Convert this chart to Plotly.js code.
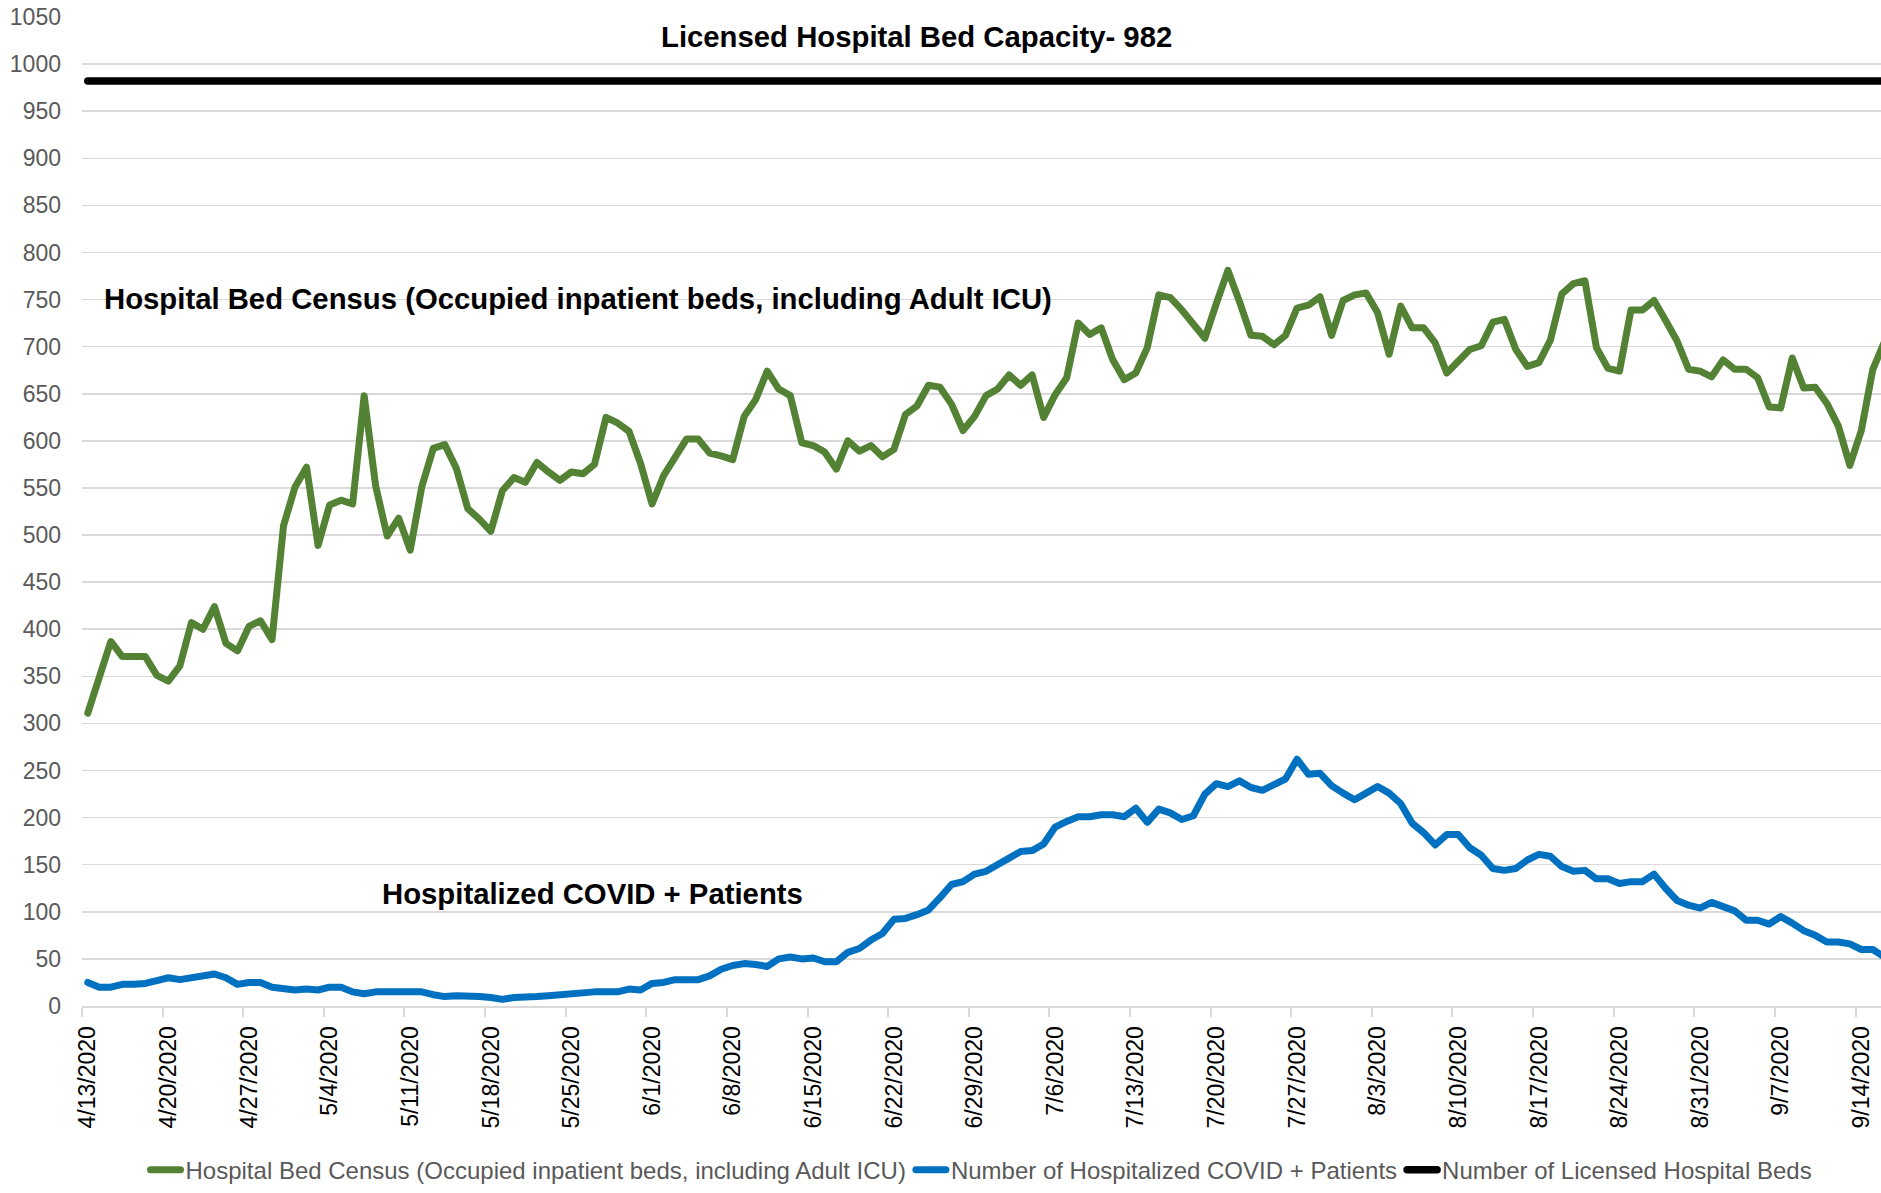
<!DOCTYPE html>
<html>
<head>
<meta charset="utf-8">
<script src="https://cdn.plot.ly/plotly-3.0.1.min.js"></script>
<style>
  html, body { margin: 0; padding: 0; background: #ffffff; }
  #chart { width: 1881px; height: 1193px; }
  .js-line { stroke-linejoin: round !important; stroke-linecap: round !important; }
</style>
</head>
<body>
<div id="chart"></div>
<script>
// ---------------- DATA ----------------
const startDate = '2020-04-13';

const hospitalBedCensus = [
  311, 349, 387, 371, 371, 371, 351, 345, 361, 407,
  400, 424, 385, 377, 403, 409, 389, 510, 551, 572,
  489, 532, 537, 533, 648, 552, 499, 518, 484, 551,
  592, 596, 571, 528, 517, 504, 547, 561, 556, 577,
  567, 558, 567, 565, 575, 625, 619, 610, 576, 533,
  563, 582, 602, 602, 587, 584, 580, 626, 644, 674,
  655, 648, 598, 595, 588, 570, 600, 589, 595, 583,
  591, 628, 637, 659, 657, 639, 611, 626, 648, 655,
  670, 659, 670, 625, 649, 667, 725, 713, 720, 686,
  665, 672, 699, 755, 752, 739, 725, 709, 746, 781,
  748, 712, 711, 702, 712, 741, 744, 753, 712, 749,
  755, 757, 736, 692, 743, 720, 720, 704, 672, 685,
  697, 701, 726, 729, 697, 679, 683, 707, 756, 767,
  770, 699, 677, 674, 739, 739, 749, 728, 706, 676,
  674, 668, 686, 676, 676, 667, 636, 635, 688, 656,
  657, 640, 616, 574, 611, 676, 705
];

const covidPatients = [
  25, 20, 20, 23, 23, 24, 27, 30, 28, 30,
  32, 34, 30, 23, 25, 25, 20, 18, 17, 18,
  17, 20, 20, 15, 13, 15, 15, 16, 16, 15,
  12, 10, 11, 11, 10, 9, 7, 9, 9, 10,
  11, 12, 13, 15, 15, 15, 15, 18, 17, 24,
  25, 28, 28, 28, 32, 39, 43, 45, 44, 42,
  50, 52, 50, 51, 47, 47, 57, 61, 70, 77,
  92, 93, 97, 102, 115, 129, 132, 140, 143, 149,
  157, 164, 165, 172, 190, 196, 201, 201, 203, 203,
  201, 210, 195, 209, 205, 198, 202, 225, 236, 233,
  239, 232, 229, 235, 241, 262, 246, 247, 234, 226,
  219, 226, 233, 226, 215, 194, 184, 171, 182, 182,
  168, 160, 146, 144, 146, 155, 161, 159, 148, 143,
  144, 135, 135, 130, 132, 132, 140, 125, 112, 107,
  104, 110, 106, 101, 91, 91, 87, 95, 88, 80,
  75, 68, 68, 66, 60, 60, 52
];

const licensedBedCapacity = 982;

const tickLabels = [
  '4/13/2020', '4/20/2020', '4/27/2020', '5/4/2020', '5/11/2020', '5/18/2020',
  '5/25/2020', '6/1/2020', '6/8/2020', '6/15/2020', '6/22/2020', '6/29/2020',
  '7/6/2020', '7/13/2020', '7/20/2020', '7/27/2020', '8/3/2020', '8/10/2020',
  '8/17/2020', '8/24/2020', '8/31/2020', '9/7/2020', '9/14/2020'
];

const seriesNames = [
  'Hospital Bed Census (Occupied inpatient beds, including Adult ICU)',
  'Number of Hospitalized COVID + Patients',
  'Number of Licensed Hospital Beds'
];

// ---------------- BUILD ----------------
const s0 = new Date(startDate + 'T00:00:00Z');
const dates = hospitalBedCensus.map((_, i) =>
  new Date(s0.getTime() + i * 86400000).toISOString().slice(0, 10));

// Excel date axis: tick marks sit half a day before the plotted points
const tickVals = tickLabels.map(s => {
  const [m, d, y] = s.split('/').map(Number);
  return new Date(Date.UTC(y, m - 1, d) - 12 * 3600000).toISOString().replace('T', ' ').slice(0, 19);
});

const FONT = 'Arial, "Liberation Sans", Helvetica, sans-serif';

const traces = [
  {
    x: dates, y: hospitalBedCensus, name: seriesNames[0],
    type: 'scatter', mode: 'lines',
    line: { color: '#548235', width: 7 }
  },
  {
    x: dates, y: covidPatients, name: seriesNames[1],
    type: 'scatter', mode: 'lines',
    line: { color: '#0070C0', width: 7 }
  },
  {
    x: dates, y: dates.map(() => licensedBedCapacity), name: seriesNames[2],
    type: 'scatter', mode: 'lines',
    line: { color: '#000000', width: 7.5 }
  }
];

const layout = {
  width: 1881, height: 1193,
  margin: { l: 82, r: 0, t: 17, b: 184, pad: 0 },
  paper_bgcolor: '#ffffff', plot_bgcolor: '#ffffff',
  font: { family: FONT, color: '#595959', size: 23 },
  showlegend: true,
  legend: {
    orientation: 'h', x: 0.5, xanchor: 'center', y: -0.166, yanchor: 'middle',
    font: { family: FONT, size: 24, color: '#595959' },
    itemwidth: 30, tracegroupgap: 0, bgcolor: 'rgba(0,0,0,0)'
  },
  xaxis: {
    type: 'date',
    range: ['2020-04-12 12:00:00', '2020-09-15 17:00:00'],
    tickmode: 'array', tickvals: tickVals, ticktext: tickLabels,
    tickangle: -90,
    ticklabelshift: 6,
    ticks: 'outside', ticklen: 9, tickwidth: 2, tickcolor: '#d9d9d9',
    tickfont: { family: FONT, size: 23, color: '#000000' },
    showgrid: false, zeroline: false,
    showline: true, linecolor: '#d9d9d9', linewidth: 2,
    fixedrange: true
  },
  yaxis: {
    range: [0, 1050], dtick: 50, tick0: 0,
    showgrid: true, gridcolor: '#d9d9d9', gridwidth: 1.5,
    zeroline: false, showline: false, ticks: '',
    ticklabelstandoff: 20,
    tickfont: { family: FONT, size: 23, color: '#595959' },
    fixedrange: true
  },
  annotations: [
    {
      text: '<b>Licensed Hospital Bed Capacity- 982</b>',
      xref: 'paper', yref: 'paper', x: 0.464, y: 0.980,
      xanchor: 'center', yanchor: 'middle', showarrow: false,
      font: { family: FONT, size: 29.3, color: '#000000' }
    },
    {
      text: '<b>Hospital Bed Census (Occupied inpatient beds, including Adult ICU)</b>',
      xref: 'paper', yref: 'paper', x: 0.2757, y: 0.7157,
      xanchor: 'center', yanchor: 'middle', showarrow: false,
      font: { family: FONT, size: 29.3, color: '#000000' }
    },
    {
      text: '<b>Hospitalized COVID + Patients</b>',
      xref: 'paper', yref: 'paper', x: 0.284, y: 0.1139,
      xanchor: 'center', yanchor: 'middle', showarrow: false,
      font: { family: FONT, size: 29.3, color: '#000000' }
    }
  ]
};

Plotly.newPlot('chart', traces, layout, { displayModeBar: false, staticPlot: true });
</script>
</body>
</html>
